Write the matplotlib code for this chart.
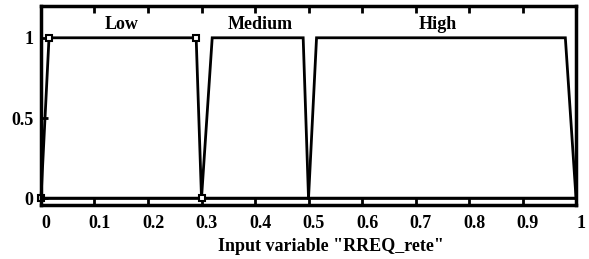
import numpy as np
import matplotlib.pyplot as plt
import matplotlib.transforms as mtransforms

plt.rcParams['font.family'] = ['Liberation Serif', 'DejaVu Serif']

# trapezoid parameters
mf_names = ["Low", "Medium", "High"]
low_pts = [0.0, 0.015, 0.29, 0.30]
medium_pts = [0.30, 0.32, 0.49, 0.50]
high_pts = [0.50, 0.515, 0.98, 1.0]
label_x = [0.151, 0.41, 0.742]
label_y = 1.08

x_ticks = [0, 0.1, 0.2, 0.3, 0.4, 0.5, 0.6, 0.7, 0.8, 0.9, 1]
x_ticklabels = ["0", "0.1", "0.2", "0.3", "0.4", "0.5", "0.6", "0.7", "0.8", "0.9", "1"]
y_ticks = [0, 0.5, 1]
y_ticklabels = ["0", "0.5", "1"]


def trap_line(p):
    # whole range drawn, zero outside the trapezoid (like plotmf)
    xs = [0.0, p[0], p[1], p[2], p[3], 1.0]
    ys = [0, 0, 1, 1, 0, 0]
    return xs, ys


fig = plt.figure(figsize=(5.89, 2.59), dpi=100)
ax = fig.add_axes([0.0696, 0.2085, 0.9084, 0.7695])

for p in [low_pts, medium_pts, high_pts]:
    xs, ys = trap_line(p)
    ax.plot(xs, ys, color='black', lw=2, clip_on=False, solid_joinstyle='miter')

# selected MF has square handles
ax.plot(low_pts, [0, 1, 1, 0], ls='none', marker='s', ms=5, mfc='white',
        mec='black', mew=1.5, clip_on=False)

for name, lx in zip(mf_names, label_x):
    ax.text(lx, label_y, name, ha='center', va='center', fontsize=13, fontweight='bold')

ax.set_xlim(0, 1)
ax.set_ylim(-0.042, 1.2)
ax.set_xticks(x_ticks)
ax.set_xticklabels(x_ticklabels, fontsize=13, fontweight='bold')
ax.set_yticks(y_ticks)
ax.set_yticklabels(y_ticklabels, fontsize=13, fontweight='bold')
ax.tick_params(direction='in', top=True, right=False, width=2, length=5)
ax.tick_params(axis='x', pad=7)
ax.tick_params(axis='y', pad=5.5)
for s in ax.spines.values():
    s.set_linewidth(2.5)

# x tick labels sit a bit right of their ticks in the original
shift = mtransforms.ScaledTranslation(5 / 100, 0, fig.dpi_scale_trans)
for lab in ax.get_xticklabels():
    lab.set_transform(lab.get_transform() + shift)

ax.set_xlabel('Input variable "RREQ_rete"', fontsize=13, fontweight='bold')
ax.xaxis.set_label_coords(0.542, -0.165)

plt.savefig("out.png", dpi=100)
